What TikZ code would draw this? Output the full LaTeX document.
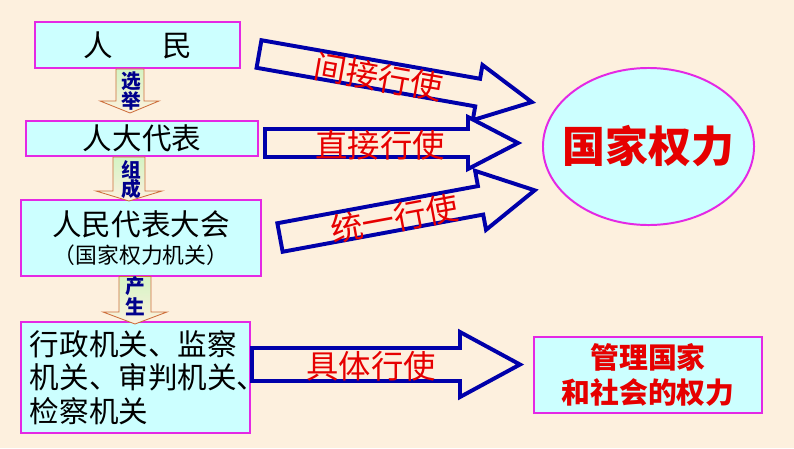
\documentclass[tikz,border=0pt]{standalone}
\usepackage{fontspec}
\setmainfont{Noto Sans CJK SC}
\usetikzlibrary{shapes.geometric}

\definecolor{bgpeach}{RGB}{253,240,222}
\definecolor{boxcyan}{RGB}{204,255,255}
\definecolor{boxpink}{RGB}{228,40,228}
\definecolor{arrblue}{RGB}{0,0,170}
\definecolor{txtred}{RGB}{230,0,0}
\definecolor{lblblue}{RGB}{0,0,140}
\definecolor{arrgreen}{RGB}{212,244,196}
\definecolor{arrbrown}{RGB}{205,110,60}

\tikzset{
  box/.style={draw=boxpink, line width=1.4pt, fill=boxcyan, inner sep=0pt},
  bigtext/.style={font=\fontsize{21}{24}\selectfont},
  usetext/.style={text=txtred, font=\fontsize{23}{27}\selectfont, inner sep=0pt},
  bigarr/.style={draw=arrblue, line width=2.8pt, fill=bgpeach, line join=miter},
  downarr/.style={draw=arrbrown, line width=0.6pt, top color=arrgreen, bottom color=bgpeach},
  lbl/.style={text=lblblue, font=\fontsize{14}{13.5}\selectfont\bfseries, align=center, inner sep=0pt}
}

% block arrow: name, tail, angle, length, head length, half shaft, half head, text pos, text
\newcommand{\blockarrow}[9]{%
  \begin{scope}[shift={(#2)}, rotate=#3, transform shape]
    \draw[bigarr] (0,-#6) -- (#4-#5,-#6) -- (#4-#5,-#7) -- (#4,0)
      -- (#4-#5,#7) -- (#4-#5,#6) -- (0,#6) -- cycle;
    \node[usetext] (#1) at (#8,2) {#9};
  \end{scope}}

\begin{document}
\begin{tikzpicture}[x=0.025cm, y=-0.025cm]
%background
\fill[bgpeach] (0,0) rectangle (794,448);
\useasboundingbox (0,0) rectangle (794,448);

%left column
\node[box, bigtext, minimum width=5.125cm, minimum height=1.15cm] (people) at (137.5,45) {人\hspace{1.67em}民};
\node[box, bigtext, minimum width=5.8cm, minimum height=0.875cm] (deputies) at (142,138.5) {人大代表};
\node[box, minimum width=6cm, minimum height=1.8875cm, align=center] (npc) at (141,237.75)
  {{\fontsize{21}{24}\selectfont 人民代表大会}\\[4pt]{\fontsize{15.5}{17}\selectfont （国家权力机关）}};
\node[box, bigtext, minimum width=5.725cm, minimum height=2.775cm, text width=5.275cm, align=left] (organs) at (135.5,377.5)
  {行政机关、监察\\机关、审判机关、\\检察机关};

%right side
\node[ellipse, draw=boxpink, line width=1.4pt, fill=boxcyan, inner sep=0pt, minimum width=5.275cm, minimum height=3.925cm,
  text=txtred, font=\fontsize{30.5}{34}\selectfont\bfseries] (power) at (648.5,146.5) {\makebox[0pt]{国家权力}};
\node[box, minimum width=5.7cm, minimum height=1.9cm, align=center, text=txtred,
  font=\fontsize{20.5}{24.8}\selectfont\bfseries] (manage) at (648,375) {管理国家\\和社会的权力};

%down arrows
\draw[downarr] ([xshift=-0.5375cm]people.south) -- ++(0,32) -- ++(-16,0) -- ++(30,12) -- ++(29,-12) -- ++(-15,0) -- ++(0,-32) -- cycle;
\draw[downarr] ([xshift=-0.725cm]deputies.south) -- ++(0,34) -- ++(-17,0) -- ++(33,10) -- ++(33,-10) -- ++(-17,0) -- ++(0,-34) -- cycle;
\draw[downarr] ([xshift=-0.55cm]npc.south) -- ++(0,35.5) -- ++(-16,0) -- ++(32,12) -- ++(32,-12) -- ++(-16,0) -- ++(0,-35.5) -- cycle;
\node[lbl] (elect) at (131,91) {选\\举};
\node[lbl] (form) at (131,180) {组\\成};
\node[lbl] (produce) at (135,296) {产\\生};

%block arrows
\coordinate (indtail) at (259,54);
\coordinate (dirtail) at (265,143);
\coordinate (unitail) at (280,237.5);
\coordinate (contail) at (252,364.5);
\blockarrow{indirect}{indtail}{-10}{277}{55}{14}{28}{122}{间接行使}
\blockarrow{direct}{dirtail}{0}{253}{50}{14}{26}{115}{直接行使}
\blockarrow{unified}{unitail}{10.5}{259}{55}{14.5}{30}{116}{统一行使}
\blockarrow{concrete}{contail}{0}{268}{60}{16.5}{32.5}{119}{具体行使}
\end{tikzpicture}
\end{document}
